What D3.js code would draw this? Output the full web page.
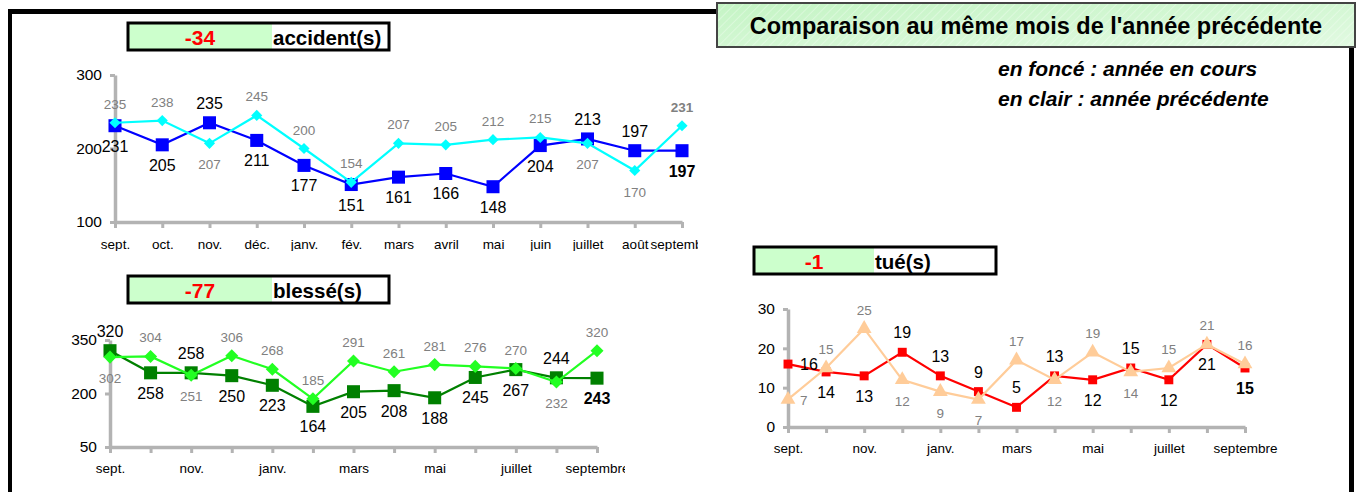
<!DOCTYPE html>
<html>
<head>
<meta charset="utf-8">
<script src="https://cdn.jsdelivr.net/npm/d3@7"></script>
<style>
  body { margin: 0; background: #fff; }
  svg { display: block; font-family: "Liberation Sans", Arial, sans-serif; }
</style>
</head>
<body>
<svg id="wrapper" width="1358" height="492"></svg>
<script>
// data
const months = ['sept.', 'oct.', 'nov.', 'déc.', 'janv.', 'fév.', 'mars', 'avril', 'mai', 'juin', 'juillet', 'août', 'septembre'];

const accidentsCur  = [231, 205, 235, 211, 177, 151, 161, 166, 148, 204, 213, 197, 197];
const accidentsPrev = [235, 238, 207, 245, 200, 154, 207, 205, 212, 215, 207, 170, 231];

const blessesCur  = [320, 258, 258, 250, 223, 164, 205, 208, 188, 245, 267, 244, 243];
const blessesPrev = [302, 304, 251, 306, 268, 185, 291, 261, 281, 276, 270, 232, 320];

const tuesCur  = [16, 14, 13, 19, 13, 9, 5, 13, 12, 15, 12, 21, 15];
const tuesPrev = [7, 15, 25, 12, 9, 7, 17, 12, 19, 14, 15, 21, 16];

const diffs = [-34, -77, -1];
const titles = ['accident(s)', 'blessé(s)', 'tué(s)'];

const svg = d3.select('#wrapper');

// outer frame
svg.append('rect').attr('x', 8).attr('y', 9).attr('width', 1346).attr('height', 5).attr('fill', '#000');
svg.append('rect').attr('x', 8).attr('y', 9).attr('width', 4).attr('height', 483).attr('fill', '#000');
svg.append('rect').attr('x', 1349).attr('y', 9).attr('width', 5).attr('height', 483).attr('fill', '#000');

// title box top right
const defs = svg.append('defs');
const grad = defs.append('linearGradient').attr('id', 'titleGrad')
  .attr('x1', '0').attr('y1', '0').attr('x2', '1').attr('y2', '1');
grad.append('stop').attr('offset', '0').attr('stop-color', '#c4f4c4');
grad.append('stop').attr('offset', '1').attr('stop-color', '#e2fae2');
const hatch = defs.append('pattern').attr('id', 'hatch')
  .attr('width', 6).attr('height', 6).attr('patternUnits', 'userSpaceOnUse')
  .attr('patternTransform', 'rotate(45)');
hatch.append('line').attr('x1', 0).attr('y1', 0).attr('x2', 0).attr('y2', 6)
  .attr('stroke', '#ffffff').attr('stroke-width', 1).attr('stroke-opacity', 0.6);

svg.append('rect').attr('x', 717).attr('y', 3).attr('width', 638).attr('height', 44)
  .attr('fill', 'url(#titleGrad)').attr('stroke', '#444').attr('stroke-width', 2);
svg.append('rect').attr('x', 718).attr('y', 4).attr('width', 636).attr('height', 42)
  .attr('fill', 'url(#hatch)');
svg.append('text').attr('x', 1036).attr('y', 34)
  .attr('text-anchor', 'middle').style('font-size', '23.5px').style('font-weight', 'bold')
  .text("Comparaison au même mois de l'année précédente");

svg.append('text').attr('x', 998).attr('y', 76)
  .style('font-size', '21px').style('font-weight', 'bold').style('font-style', 'italic')
  .text('en foncé : année en cours');
svg.append('text').attr('x', 998).attr('y', 106)
  .style('font-size', '21px').style('font-weight', 'bold').style('font-style', 'italic')
  .text('en clair : année précédente');

// small header box with the difference
function headerBox(x, y, w, h, greenW, value, label) {
  let g = svg.append('g').attr('transform', 'translate(' + x + ',' + y + ')');
  g.append('rect').attr('width', w).attr('height', h).attr('fill', '#fff');
  g.append('rect').attr('width', greenW).attr('height', h).attr('fill', '#ccffcc');
  g.append('rect').attr('width', w).attr('height', h).attr('fill', 'none')
    .attr('stroke', '#000').attr('stroke-width', 3);
  g.append('text').attr('x', greenW / 2).attr('y', h / 2 + 8)
    .attr('text-anchor', 'middle').attr('fill', '#ff0000')
    .style('font-size', '21px').style('font-weight', 'bold').text(value);
  g.append('text').attr('x', greenW + 1).attr('y', h / 2 + 8)
    .style('font-size', '20.5px').style('font-weight', 'bold').text(label);
}

headerBox(128, 23, 261, 27, 144, diffs[0], titles[0]);
headerBox(128, 276, 261, 27, 144, diffs[1], titles[1]);
headerBox(754, 247, 242, 27, 120, diffs[2], titles[2]);

let clipId = 0;

function lineChart(opt) {
  let cid = 'clip' + (clipId++);
  defs.append('clipPath').attr('id', cid).append('rect')
    .attr('x', opt.clip[0]).attr('y', opt.clip[1])
    .attr('width', opt.clip[2]).attr('height', opt.clip[3]);
  let g = svg.append('g').attr('clip-path', 'url(#' + cid + ')');

  let idx = d3.range(months.length);
  let x = d3.scalePoint().domain(idx).range(opt.xRange);
  let y = d3.scaleLinear().domain(opt.yDomain).range(opt.yRange);

  // x axis
  let xAxis = g.append('g')
    .attr('transform', 'translate(0,' + opt.yRange[0] + ')')
    .call(d3.axisBottom(x).tickSize(6).tickSizeOuter(0).tickPadding(opt.xPad)
      .tickFormat(function(i) { return i % opt.every === 0 ? months[i] : ''; }));
  // y axis
  let yAxis = g.append('g')
    .attr('transform', 'translate(' + opt.xRange[0] + ',0)')
    .call(d3.axisLeft(y).tickValues(opt.yTicks).tickSize(5).tickSizeOuter(0).tickPadding(8)
      .tickFormat(d3.format('d')));
  [xAxis, yAxis].forEach(function(a) {
    a.select('.domain').attr('stroke', '#b3b3b3').attr('stroke-width', 3.5);
    a.selectAll('.tick line').attr('stroke', '#b3b3b3').attr('stroke-width', 3);
    a.selectAll('.tick text').attr('fill', '#000')
      .style('font-family', '"Liberation Sans", Arial, sans-serif');
  });
  xAxis.selectAll('.tick text').style('font-size', '13.5px');
  yAxis.selectAll('.tick text').style('font-size', '15.5px');

  let line = d3.line()
    .x(function(d, i) { return x(i); })
    .y(function(d) { return y(d); });

  // placement of the data labels
  function place(i, isCur) {
    let key = (isCur ? 'c' : 'p') + i;
    if (opt.override && opt.override[key]) return opt.override[key];
    let c = opt.cur[i], p = opt.prev[i];
    if (isCur) return c > p ? 'above' : 'below';
    return c > p ? 'below' : 'above';
  }

  function series(values, color, symbolType, size, rotate) {
    g.append('path')
      .datum(values)
      .attr('fill', 'none')
      .attr('stroke', color)
      .attr('stroke-width', 2.2)
      .attr('d', line);
    g.selectAll(null)
      .data(values)
      .enter()
      .append('path')
      .attr('d', d3.symbol().type(symbolType).size(size))
      .attr('transform', function(d, i) {
        return 'translate(' + x(i) + ',' + y(d) + ') rotate(' + rotate + ')';
      })
      .attr('fill', color);
  }

  function labels(values, isCur) {
    let last = values.length - 1;
    g.selectAll(null)
      .data(values)
      .enter()
      .append('text')
      .each(function(d, i) {
        let pos = place(i, isCur);
        let t = d3.select(this);
        let px = x(i), py = y(d);
        if (pos === 'right') {
          t.attr('x', px + 12).attr('y', py + 6).attr('text-anchor', 'start');
        } else if (pos === 'above') {
          t.attr('x', px).attr('y', py - 14).attr('text-anchor', 'middle');
        } else {
          t.attr('x', px).attr('y', py + 26).attr('text-anchor', 'middle');
        }
      })
      .attr('fill', isCur ? '#000' : '#808080')
      .style('font-size', isCur ? '16px' : '13.5px')
      .style('font-weight', function(d, i) {
        if (i !== last) return 'normal';
        return isCur || opt.boldPrevLast ? 'bold' : 'normal';
      })
      .text(function(d) { return d; });
  }

  series(opt.cur, opt.curColor, d3.symbolSquare, opt.curSize, 0);
  series(opt.prev, opt.prevColor, opt.prevSymbol, opt.prevSize, opt.prevRotate);
  labels(opt.prev, false);
  labels(opt.cur, true);
}

// accidents
lineChart({
  cur: accidentsCur, prev: accidentsPrev,
  xRange: [115, 682], yDomain: [100, 300], yRange: [222, 75], yTicks: [100, 200, 300],
  every: 1, xPad: 11, clip: [20, 55, 678, 196],
  curColor: '#0000ff', prevColor: '#00ffff', curSize: 170,
  prevSymbol: d3.symbolSquare, prevSize: 62, prevRotate: 45, boldPrevLast: true
});

// blessés
lineChart({
  cur: blessesCur, prev: blessesPrev,
  xRange: [110, 597], yDomain: [50, 350], yRange: [447, 340], yTicks: [50, 200, 350],
  every: 2, xPad: 10, clip: [20, 310, 605, 175],
  curColor: '#008000', prevColor: '#22ff22', curSize: 170,
  prevSymbol: d3.symbolSquare, prevSize: 85, prevRotate: 45, boldPrevLast: false
});

// tués
lineChart({
  cur: tuesCur, prev: tuesPrev,
  xRange: [788, 1245], yDomain: [0, 30], yRange: [427, 309], yTicks: [0, 10, 20, 30],
  every: 2, xPad: 10, clip: [740, 290, 600, 190],
  curColor: '#ff0000', prevColor: '#ffcc99', curSize: 80,
  prevSymbol: d3.symbolTriangle, prevSize: 95, prevRotate: 0, boldPrevLast: false,
  override: {c0: 'right', p0: 'right', c6: 'above'}
});
</script>
</body>
</html>
